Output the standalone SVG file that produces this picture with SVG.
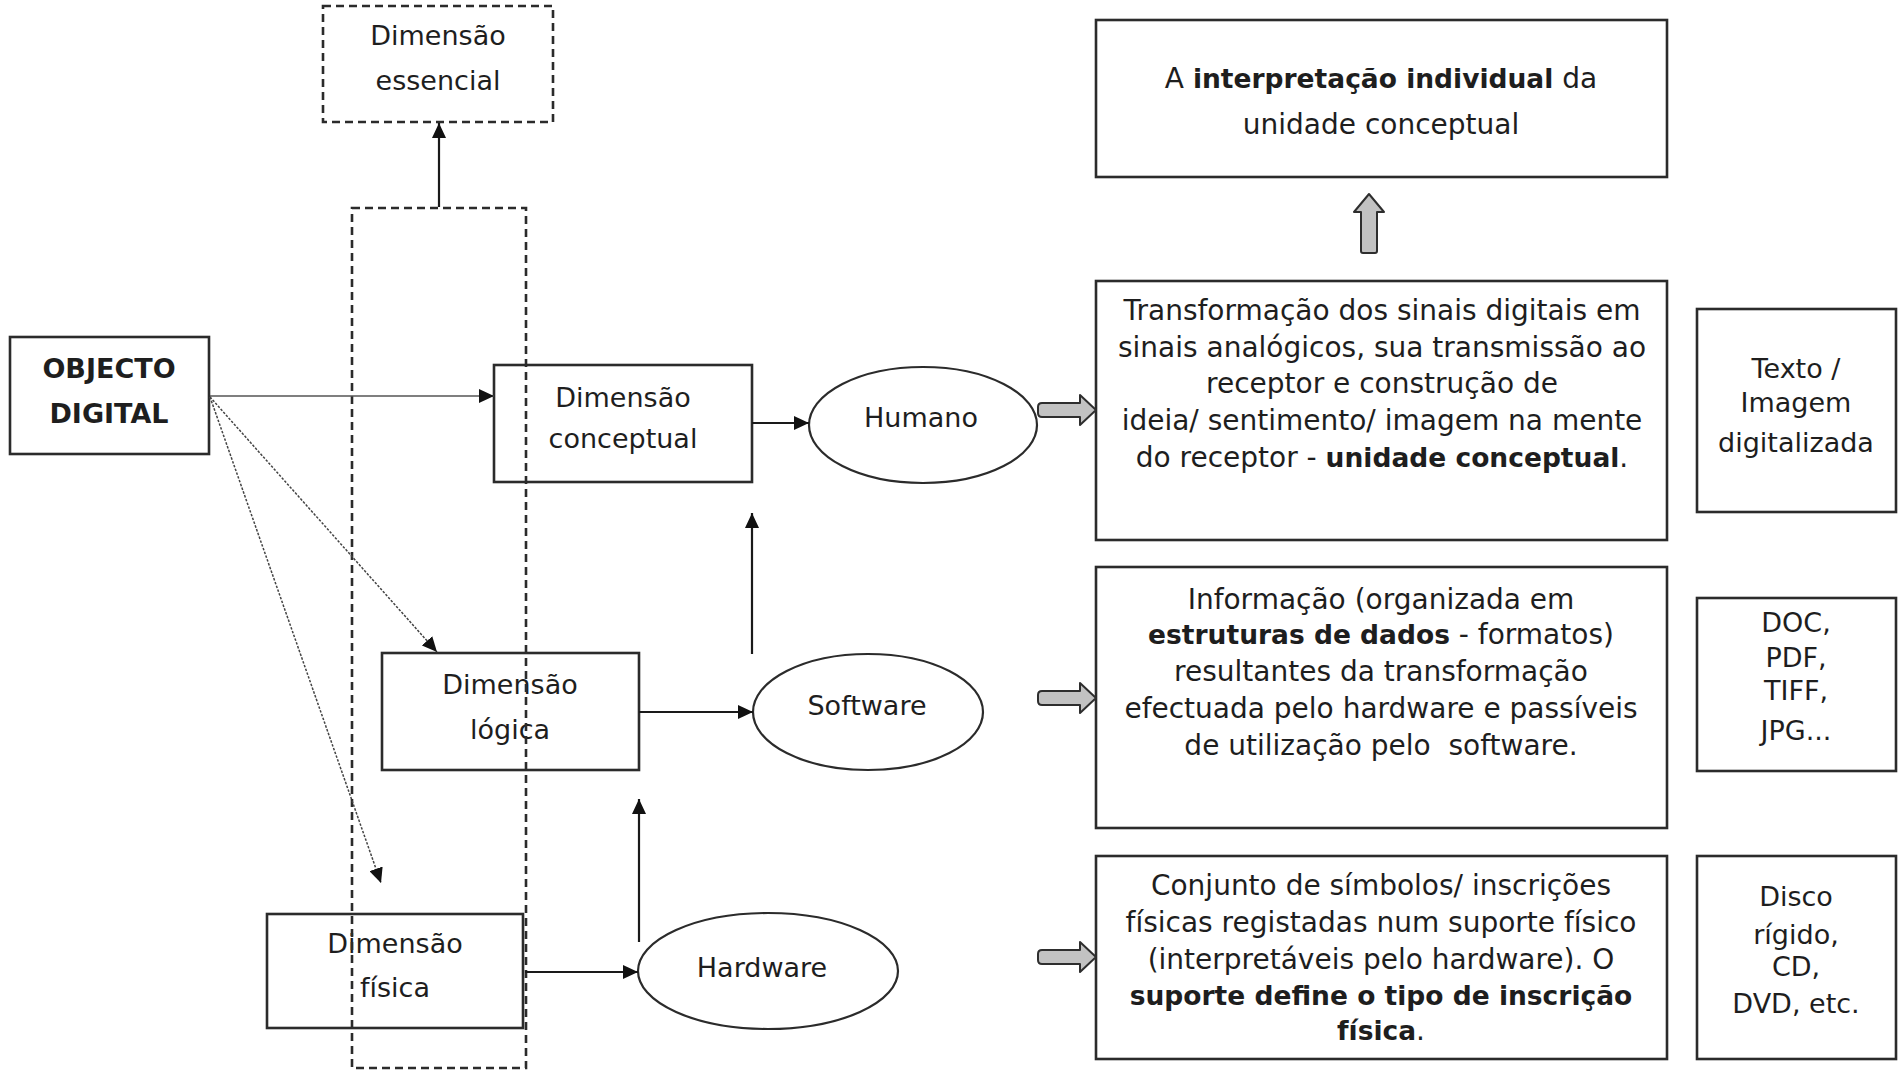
<svg xmlns="http://www.w3.org/2000/svg" width="1903" height="1072" viewBox="0 0 1903 1072">
  <style>
    .box { fill: none; stroke: #2b2b2b; stroke-width: 2.6; }
    .dash { fill: none; stroke: #2b2b2b; stroke-width: 2.6; stroke-dasharray: 8 5; }
    .ell { fill: none; stroke: #2b2b2b; stroke-width: 2.2; }
    .t { font-family: "DejaVu Sans", "Liberation Sans", sans-serif; font-size: 27px; fill: #1e1e1e; text-anchor: middle; }
    .d { font-size: 28px; }
    .b { font-weight: bold; font-size: 26.5px; }
    .line { fill: none; stroke: #1a1a1a; stroke-width: 2.2; }
    .thin { fill: none; stroke: #555; stroke-width: 1.6; }
    .dot { fill: none; stroke: #444; stroke-width: 1.5; stroke-dasharray: 2.5 1.5; }
    .hollow { fill: #c2c2c2; stroke: #2e2e2e; stroke-width: 2; stroke-linejoin: round; }
  </style>
  <defs>
    <marker id="head" markerUnits="userSpaceOnUse" markerWidth="16" markerHeight="14" refX="15" refY="7" orient="auto">
      <path d="M0,0 L15,7 L0,14 z" fill="#111"/>
    </marker>
  </defs>
  <rect width="1903" height="1072" fill="#fff"/>

  <!-- left column: the object and its three dimensions -->
  <g id="objecto-digital">
    <rect class="box" x="10" y="337" width="199" height="117"/>
    <text class="t" x="109" y="378" font-size="28" font-weight="bold">OBJECTO</text>
    <text class="t" x="109" y="423" font-size="28" font-weight="bold">DIGITAL</text>
  </g>

  <g id="dimensao-essencial">
    <rect class="dash" x="323" y="6" width="230" height="116"/>
    <text class="t" x="438" y="45">Dimensão</text>
    <text class="t" x="438" y="90">essencial</text>
  </g>

  <g id="dimensao-conceptual">
    <rect class="box" x="494" y="365" width="258" height="117"/>
    <text class="t" x="623" y="407">Dimensão</text>
    <text class="t" x="623" y="448">conceptual</text>
  </g>

  <g id="dimensao-logica">
    <rect class="box" x="382" y="653" width="257" height="117"/>
    <text class="t" x="510" y="694">Dimensão</text>
    <text class="t" x="510" y="739">lógica</text>
  </g>

  <g id="dimensao-fisica">
    <rect class="box" x="267" y="914" width="256" height="114"/>
    <text class="t" x="395" y="953">Dimensão</text>
    <text class="t" x="395" y="997">física</text>
  </g>

  <!-- dashed frame grouping the three dimensions -->
  <g id="grupo-dimensoes">
    <rect class="dash" x="352" y="208" width="174" height="860"/>
  </g>

  <!-- interpreters -->
  <g id="humano">
    <ellipse class="ell" cx="923" cy="425" rx="114" ry="58"/>
    <text class="t" x="921" y="427">Humano</text>
  </g>
  <g id="software">
    <ellipse class="ell" cx="868" cy="712" rx="115" ry="58"/>
    <text class="t" x="867" y="715">Software</text>
  </g>
  <g id="hardware">
    <ellipse class="ell" cx="768" cy="971" rx="130" ry="58"/>
    <text class="t" x="762" y="977">Hardware</text>
  </g>

  <!-- right column: descriptions -->
  <g id="interpretacao">
    <rect class="box" x="1096" y="20" width="571" height="157"/>
    <text class="t d" x="1381" y="88">A <tspan class="b">interpretação individual</tspan> da</text>
    <text class="t d" x="1381" y="134">unidade conceptual</text>
  </g>

  <g id="transformacao">
    <rect class="box" x="1096" y="281" width="571" height="259"/>
    <text class="t d" x="1382" y="320">Transformação dos sinais digitais em</text>
    <text class="t d" x="1382" y="357">sinais analógicos, sua transmissão ao</text>
    <text class="t d" x="1382" y="393">receptor e construção de</text>
    <text class="t d" x="1382" y="430">ideia/ sentimento/ imagem na mente</text>
    <text class="t d" x="1382" y="467">do receptor - <tspan class="b">unidade conceptual</tspan>.</text>
  </g>

  <g id="texto-imagem">
    <rect class="box" x="1697" y="309" width="199" height="203"/>
    <text class="t" x="1796" y="378" font-size="25">Texto /</text>
    <text class="t" x="1796" y="412" font-size="25">Imagem</text>
    <text class="t" x="1796" y="452" font-size="25">digitalizada</text>
  </g>

  <g id="informacao">
    <rect class="box" x="1096" y="567" width="571" height="261"/>
    <text class="t d" x="1381" y="609">Informação (organizada em</text>
    <text class="t d" x="1381" y="644"><tspan class="b">estruturas de dados</tspan> - formatos)</text>
    <text class="t d" x="1381" y="681">resultantes da transformação</text>
    <text class="t d" x="1381" y="718">efectuada pelo hardware e passíveis</text>
    <text class="t d" x="1381" y="755">de utilização pelo&#160; software.</text>
  </g>

  <g id="formatos">
    <rect class="box" x="1697" y="598" width="199" height="173"/>
    <text class="t" x="1796" y="632" font-size="25">DOC,</text>
    <text class="t" x="1796" y="667" font-size="25">PDF,</text>
    <text class="t" x="1796" y="700" font-size="25">TIFF,</text>
    <text class="t" x="1796" y="740" font-size="25">JPG...</text>
  </g>

  <g id="conjunto-simbolos">
    <rect class="box" x="1096" y="856" width="571" height="203"/>
    <text class="t d" x="1381" y="895">Conjunto de símbolos/ inscrições</text>
    <text class="t d" x="1381" y="932">físicas registadas num suporte físico</text>
    <text class="t d" x="1381" y="969">(interpretáveis pelo hardware). O</text>
    <text class="t d" x="1381" y="1005"><tspan class="b">suporte define o tipo de inscrição</tspan></text>
    <text class="t d" x="1381" y="1040"><tspan class="b">física</tspan>.</text>
  </g>

  <g id="suportes">
    <rect class="box" x="1697" y="856" width="199" height="203"/>
    <text class="t" x="1796" y="906" font-size="25">Disco</text>
    <text class="t" x="1796" y="944" font-size="25">rígido,</text>
    <text class="t" x="1796" y="976" font-size="25">CD,</text>
    <text class="t" x="1796" y="1013" font-size="25">DVD, etc.</text>
  </g>

  <!-- connectors -->
  <g id="connectors">
    <line class="thin" x1="210" y1="396" x2="494" y2="396" marker-end="url(#head)"/>
    <line class="dot" x1="210" y1="397" x2="437" y2="652" marker-end="url(#head)"/>
    <line class="dot" x1="210" y1="397" x2="381" y2="883" marker-end="url(#head)"/>
    <line class="line" x1="439" y1="207" x2="439" y2="123" marker-end="url(#head)"/>
    <line class="line" x1="752" y1="423" x2="809" y2="423" marker-end="url(#head)"/>
    <line class="line" x1="639" y1="712" x2="753" y2="712" marker-end="url(#head)"/>
    <line class="line" x1="525" y1="972" x2="638" y2="972" marker-end="url(#head)"/>
    <line class="line" x1="752" y1="654" x2="752" y2="513" marker-end="url(#head)"/>
    <line class="line" x1="639" y1="942" x2="639" y2="799" marker-end="url(#head)"/>

    <!-- hollow block arrows -->
    <path class="hollow" d="M1042,403 L1080,403 L1080,395 L1096,410 L1080,425 L1080,417 L1042,417 Q1038,417 1038,413 L1038,407 Q1038,403 1042,403 z"/>
    <path class="hollow" d="M1042,691 L1080,691 L1080,683 L1096,698 L1080,713 L1080,705 L1042,705 Q1038,705 1038,701 L1038,695 Q1038,691 1042,691 z"/>
    <path class="hollow" d="M1042,950 L1080,950 L1080,942 L1096,957 L1080,972 L1080,964 L1042,964 Q1038,964 1038,960 L1038,954 Q1038,950 1042,950 z"/>
    <path class="hollow" d="M1361,251 L1361,212 L1354,212 L1369,194 L1384,212 L1377,212 L1377,251 Q1377,253 1375,253 L1363,253 Q1361,253 1361,251 z"/>
  </g>
</svg>
